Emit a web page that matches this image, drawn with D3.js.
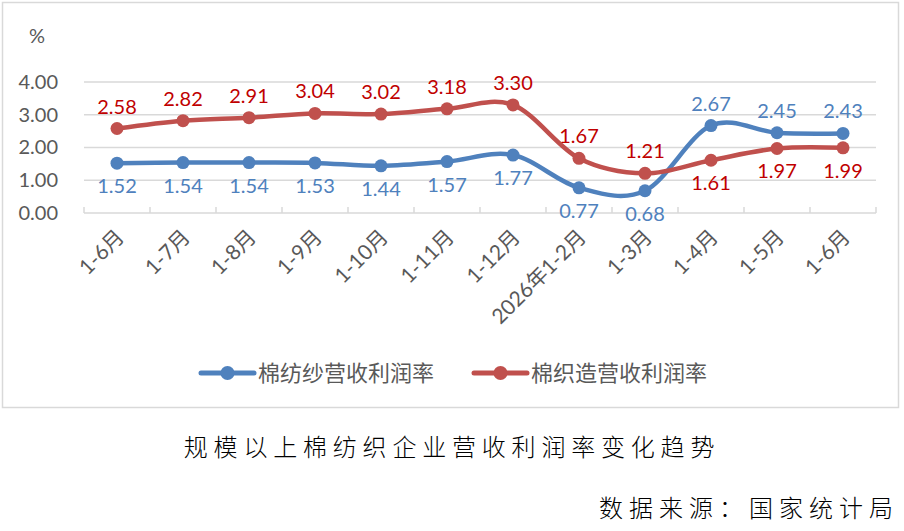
<html>
<head>
<meta charset="utf-8">
<style>
  body { margin:0; background:#fff; }
  text { font-family: Lato, "Noto Sans CJK SC", sans-serif; }
  .cjk { font-family: "Noto Sans CJK SC", sans-serif; }
</style>
</head>
<body>
<svg id="plot"></svg>
<script src="https://d3js.org/d3.v7.min.js"></script>
<script>

var months = ["1-6月","1-7月","1-8月","1-9月","1-10月","1-11月","1-12月","2026年1-2月","1-3月","1-4月","1-5月","1-6月"]
var yarnRate = [1.52,1.54,1.54,1.53,1.44,1.57,1.77,0.77,0.68,2.67,2.45,2.43]
var clothRate = [2.58,2.82,2.91,3.04,3.02,3.18,3.30,1.67,1.21,1.61,1.97,1.99]
var yTicks = [0,1,2,3,4]

// label above (-1) or below (1) for each point
var yarnSide = [1,1,1,1,1,1,1,1,1,-1,-1,-1]
var clothSide = [-1,-1,-1,-1,-1,-1,-1,-1,-1,1,1,1]

var screen = {width:904, height:531}
var margins = {top:82, left:84, right:28}
var graph = {width:screen.width-margins.left-margins.right, height:131}

var svg = d3.select("#plot")
    .attr("width",screen.width)
    .attr("height",screen.height)

// chart frame
svg.append("rect")
    .attr("x",2.5).attr("y",2.5)
    .attr("width",896).attr("height",405)
    .attr("fill","none")
    .attr("stroke","#d9d9d9")
    .attr("stroke-width",1.5)

var xScale = d3.scaleBand()
    .domain(d3.range(months.length))
    .range([0,graph.width])

var yScale = d3.scaleLinear()
    .domain([0,4])
    .range([graph.height,0])

var g = svg.append("g")
    .attr("transform","translate("+margins.left+","+margins.top+")")

// gridlines
g.append("g")
    .selectAll("line")
    .data(yTicks.slice(1))
    .enter()
    .append("line")
    .attr("x1",0).attr("x2",graph.width)
    .attr("y1",function(d){return yScale(d)})
    .attr("y2",function(d){return yScale(d)})
    .attr("stroke","#d9d9d9")
    .attr("stroke-width",1.5)

// y axis labels
var yAxis = d3.axisLeft(yScale)
    .tickValues(yTicks)
    .tickFormat(d3.format(".2f"))
    .tickSize(0)
    .tickPadding(26)

g.append("g")
    .call(yAxis)
    .call(function(a){ a.select(".domain").remove() })
    .selectAll("text")
    .attr("font-size","20px")
    .attr("fill","#595959")
    .attr("font-family","Lato, sans-serif")

// x axis line and ticks
var xAxisG = g.append("g")
    .attr("transform","translate(0,"+graph.height+")")

xAxisG.append("line")
    .attr("x1",0).attr("x2",graph.width)
    .attr("stroke","#d9d9d9").attr("stroke-width",1.5)

xAxisG.selectAll(".tick")
    .data(d3.range(months.length+1))
    .enter()
    .append("line")
    .attr("x1",function(i){return i*xScale.step()})
    .attr("x2",function(i){return i*xScale.step()})
    .attr("y1",0).attr("y2",-6)
    .attr("stroke","#d9d9d9").attr("stroke-width",1.5)

xAxisG.selectAll(".xl")
    .data(months)
    .enter()
    .append("text")
    .attr("text-anchor","end")
    .attr("font-size","21px")
    .attr("fill","#595959")
    .attr("transform",function(d,i){
        var cx = xScale(i)+xScale.bandwidth()/2-2
        return "translate("+cx+",15) rotate(-45)"
    })
    .attr("dy","0.7em")
    .text(function(d){return d})

var cx = function(i){ return xScale(i)+xScale.bandwidth()/2 }

var line = d3.line()
    .x(function(d,i){return cx(i)})
    .y(function(d){return yScale(d)})
    .curve(d3.curveCatmullRom.alpha(0))

var series = [
    {values:yarnRate, color:"#4f81bd", label:"#4f81bd", side:yarnSide},
    {values:clothRate, color:"#c0504d", label:"#c00000", side:clothSide}
]

series.forEach(function(s){
    g.append("path")
        .datum(s.values)
        .attr("d",line)
        .attr("fill","none")
        .attr("stroke",s.color)
        .attr("stroke-width",4.5)
        .attr("stroke-linecap","round")

    g.append("g").selectAll("circle")
        .data(s.values)
        .enter()
        .append("circle")
        .attr("cx",function(d,i){return cx(i)})
        .attr("cy",function(d){return yScale(d)})
        .attr("r",6.5)
        .attr("fill",s.color)

    g.append("g").selectAll("text")
        .data(s.values)
        .enter()
        .append("text")
        .attr("x",function(d,i){return cx(i)})
        .attr("y",function(d,i){return yScale(d)+(s.side[i]>0 ? 30 : -15)})
        .attr("text-anchor","middle")
        .attr("font-size","20px")
        .attr("fill",s.label)
        .text(function(d){return d.toFixed(2)})
})

// percent unit
svg.append("text")
    .attr("x",29).attr("y",43)
    .attr("font-size","20px")
    .attr("fill","#595959")
    .text("%")

// legend
var legendNames = ["棉纺纱营收利润率","棉织造营收利润率"]
var legendX = [201,474]
legendNames.forEach(function(name,i){
    var lg = svg.append("g").attr("transform","translate("+legendX[i]+",373)")
    lg.append("line")
        .attr("x1",0).attr("x2",53)
        .attr("stroke",series[i].color)
        .attr("stroke-width",5)
        .attr("stroke-linecap","round")
    lg.append("circle")
        .attr("cx",26.5).attr("r",7)
        .attr("fill",series[i].color)
    lg.append("text")
        .attr("class","cjk")
        .attr("x",57).attr("y",8)
        .attr("font-size","22px")
        .attr("fill","#595959")
        .text(name)
})

// title and source
svg.append("text")
    .attr("class","cjk")
    .attr("x",452).attr("y",456)
    .attr("text-anchor","middle")
    .attr("font-size","24px")
    .attr("font-weight","300")
    .attr("letter-spacing","5.8px")
    .attr("fill","#000")
    .text("规模以上棉纺织企业营收利润率变化趋势")

svg.append("text")
    .attr("class","cjk")
    .attr("x",899).attr("y",517)
    .attr("text-anchor","end")
    .attr("font-size","24px")
    .attr("font-weight","300")
    .attr("letter-spacing","6px")
    .attr("fill","#000")
    .text("数据来源：国家统计局")

</script>
</body>
</html>
